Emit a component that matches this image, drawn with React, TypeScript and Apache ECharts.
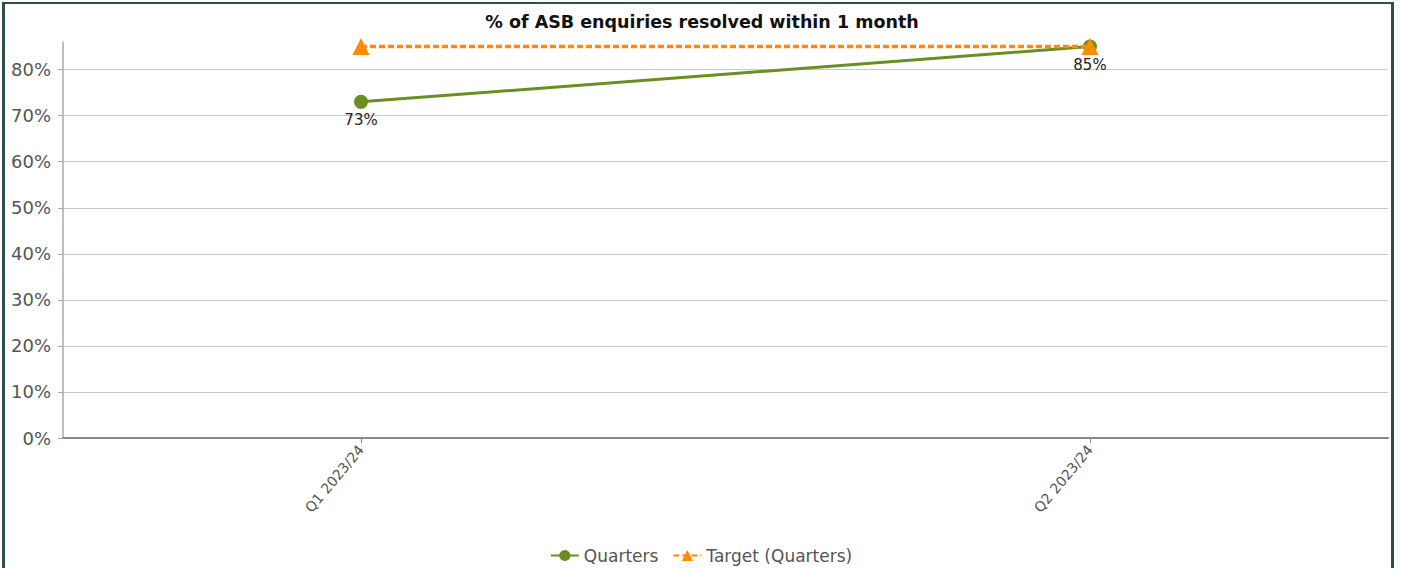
import React, { useEffect, useRef } from "react";
import * as echarts from "echarts";

const title = "% of ASB enquiries resolved within 1 month";
const categories = ["Q1 2023/24", "Q2 2023/24"];
const quarters = [73, 85];
const target = [85, 85];
const yTicks = [0, 10, 20, 30, 40, 50, 60, 70, 80];

export default function App() {
  const ref = useRef<HTMLDivElement>(null);
  useEffect(() => {
    if (!ref.current) return;
    const chart = echarts.init(ref.current, undefined, { renderer: "svg" });
    const font = "DejaVu Sans";
    chart.setOption({
      animation: false,
      backgroundColor: "#ffffff",
      textStyle: { fontFamily: font },
      title: {
        text: title,
        left: 697,
        textAlign: "center",
        top: 8,
        textStyle: { fontFamily: font, fontSize: 17.5, fontWeight: "bold", color: "#111" },
      },
      legend: {
        bottom: -1,
        left: "center",
        itemWidth: 28,
        itemHeight: 14,
        itemGap: 14,
        textStyle: { fontFamily: font, fontSize: 17, color: "#555" },
        data: ["Quarters", "Target (Quarters)"],
      },
      grid: { left: 63, right: 14, top: 42, bottom: 130, containLabel: false },
      xAxis: {
        type: "value",
        min: -0.4088,
        max: 1.4088,
        axisLine: { show: true, onZero: false, lineStyle: { color: "#888", width: 2 } },
        axisTick: { show: true, length: 5, customValues: [0, 1], lineStyle: { color: "#888" } },
        splitLine: { show: false },
        axisLabel: {
          customValues: [0, 1],
          rotate: 50,
          fontFamily: font,
          fontSize: 14,
          color: "#555",
          margin: 9,
          formatter: (v: number) => categories[Math.round(v)] ?? "",
        },
      },
      yAxis: {
        type: "value",
        min: yTicks[0],
        max: 86,
        interval: yTicks[1] - yTicks[0],
        axisLine: { show: true, onZero: false, lineStyle: { color: "#aaa", width: 1.5 } },
        axisTick: { show: true, length: 5, lineStyle: { color: "#aaa" } },
        splitLine: { show: true, showMaxLine: false, lineStyle: { color: "#c8c8c8", width: 1.2 } },
        axisLabel: {
          fontFamily: font,
          fontSize: 18,
          color: "#555",
          margin: 12,
          showMaxLabel: false,
          formatter: "{value}%",
        },
      },
      graphic: [
        { type: "rect", shape: { x: 2, y: 2, width: 3, height: 566 }, style: { fill: "#2f4f4f" } },
        { type: "rect", shape: { x: 2, y: 2, width: 1392, height: 2 }, style: { fill: "#2f4f4f" } },
        { type: "rect", shape: { x: 1391, y: 2, width: 3, height: 566 }, style: { fill: "#2f4f4f" } },
      ],
      series: [
        {
          name: "Quarters",
          type: "line",
          data: quarters.map((v, i) => [i, v]),
          symbol: "circle",
          symbolSize: 14,
          itemStyle: { color: "#6b8e23" },
          lineStyle: { color: "#6b8e23", width: 3 },
          label: {
            show: true,
            position: "bottom",
            distance: 4,
            formatter: (p: any) => p.value[1] + "%",
            fontFamily: font,
            fontSize: 15,
            color: "#222",
          },
          z: 2,
        },
        {
          name: "Target (Quarters)",
          type: "line",
          data: target.map((v, i) => [i, v]),
          symbol: "triangle",
          symbolSize: 17,
          itemStyle: { color: "#ff8c00" },
          lineStyle: { color: "#ff8c00", width: 3.5, type: [6, 3], cap: "butt" },
          label: { show: false },
          z: 3,
        },
      ],
    });
    return () => chart.dispose();
  }, []);
  return (
    <div
      ref={ref}
      style={{ position: "fixed", left: 0, top: 0, width: 1402, height: 568, background: "#fff" }}
    />
  );
}
